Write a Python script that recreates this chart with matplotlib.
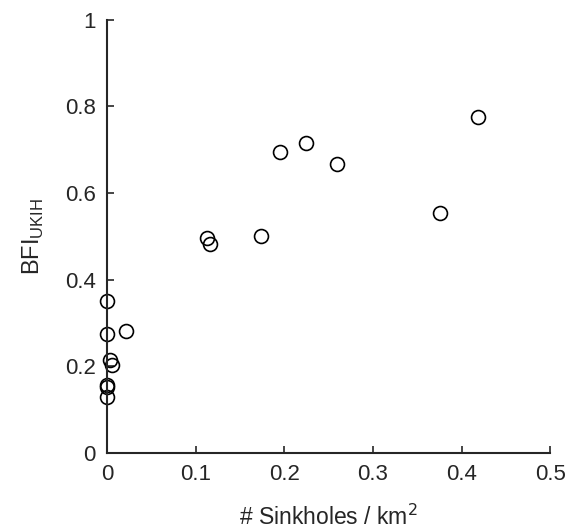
import matplotlib
matplotlib.use('Agg')
import matplotlib.pyplot as plt
from matplotlib.ticker import FuncFormatter

sinkhole_density = [0.0, 0.0, 0.022, 0.003, 0.006, 0.0, 0.0, 0.0,
                    0.1125, 0.116, 0.174, 0.195, 0.225, 0.260, 0.376, 0.418]
bfi_ukih = [0.350, 0.275, 0.281, 0.215, 0.202, 0.157, 0.152, 0.129,
            0.496, 0.482, 0.500, 0.695, 0.716, 0.667, 0.555, 0.775]

x_ticks = [0, 0.1, 0.2, 0.3, 0.4, 0.5]
y_ticks = [0, 0.2, 0.4, 0.6, 0.8, 1]

plt.rcParams['font.family'] = ['Liberation Sans', 'DejaVu Sans']
ink = '#262626'

fig = plt.figure(figsize=(5.69, 5.32), dpi=100)
ax = fig.add_axes([0.188, 0.1485, 0.779, 0.8145])

ax.plot(sinkhole_density, bfi_ukih, 'o', mfc='none', mec='black', ms=10, mew=1.2, clip_on=False)

ax.set_xlim(0, 0.5)
ax.set_ylim(0, 1)
ax.set_xticks(x_ticks)
ax.set_yticks(y_ticks)
fmt = FuncFormatter(lambda v, p: f'{v:g}')
ax.xaxis.set_major_formatter(fmt)
ax.yaxis.set_major_formatter(fmt)

for s in ['top', 'right']:
    ax.spines[s].set_visible(False)
for s in ['left', 'bottom']:
    ax.spines[s].set_color(ink)
    ax.spines[s].set_linewidth(1.5)
ax.tick_params(direction='in', length=5, width=1.2, colors=ink, labelsize=16, pad=8)

ax.set_xlabel('# Sinkholes / km$^2$', fontsize=16.5, color=ink, labelpad=14)
ax.set_ylabel('BFI$_{\\mathregular{UKIH}}$', fontsize=17, color=ink, labelpad=14)

fig.savefig('out.png', dpi=100)
